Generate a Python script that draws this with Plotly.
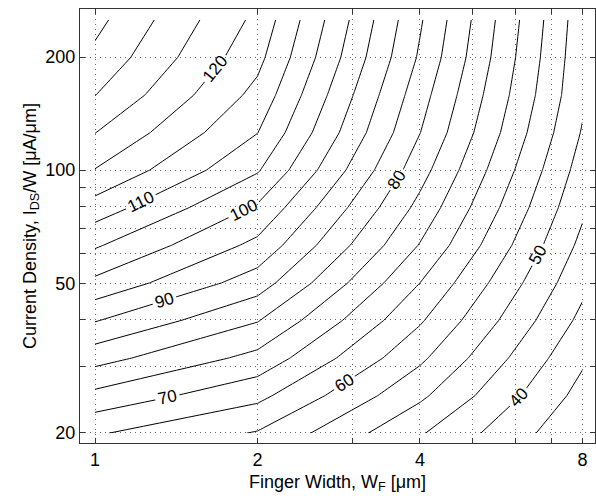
import plotly.graph_objects as go

# Finger width grid [um]
finger_width = [1, 2, 4, 8]
# Current density grid [uA/um]
current_density = [19.95, 25.12, 31.62, 39.81, 50.12, 63.10, 79.43, 100.0, 125.9, 158.5, 199.5, 251.2]

# Contour quantity at each current density, one list per finger width
z_w1 = [65.5, 73.6, 81.9, 90.3, 98.8, 105.6, 112.8, 119.8, 125.1, 130.1, 133.8, 136.5]
z_w2 = [59.6, 66.4, 73.5, 80.3, 87.5, 93.7, 99.3, 105.5, 110.1, 113.5, 116.5, 118.7]
z_w4 = [45.5, 51.0, 56.0, 60.6, 65.0, 69.7, 73.5, 77.0, 80.1, 82.1, 84.3, 85.6]
z_w8 = [30.8, 33.3, 35.8, 38.7, 41.3, 43.7, 45.9, 47.8, 49.6, 51.0, 51.5, 52.0]

x_tickvals = [1, 2, 4, 8]
x_ticktext = ["1", "2", "4", "8"]
x_minor = [3, 5, 6, 7]
y_tickvals = [20, 50, 100, 200]
y_ticktext = ["20", "50", "100", "200"]
y_minor = [30, 40, 60, 70, 80, 90]

z = [[a, b, c, d] for a, b, c, d in zip(z_w1, z_w2, z_w4, z_w8)]

FONT = "Liberation Sans, Arial, Helvetica, sans-serif"

fig = go.Figure()
# unlabeled intermediate levels
fig.add_trace(go.Contour(
    x=finger_width, y=current_density, z=z,
    autocontour=False,
    contours=dict(start=35, end=135, size=10, coloring="none", showlabels=False),
    line=dict(color="black", width=1, smoothing=0),
    showscale=False, hoverinfo="skip",
))
# labeled levels
fig.add_trace(go.Contour(
    x=finger_width, y=current_density, z=z,
    autocontour=False,
    contours=dict(start=40, end=130, size=10, coloring="none", showlabels=True,
                  labelfont=dict(family=FONT, size=17, color="black")),
    line=dict(color="black", width=1, smoothing=0),
    showscale=False, hoverinfo="skip",
))

grid_style = dict(showgrid=True, gridcolor="#666", gridwidth=1, griddash="1px,4px")
axis_common = dict(
    showline=True, linecolor="#333", linewidth=1, mirror="ticks",
    ticks="inside", ticklen=5, tickcolor="#333",
    zeroline=False, tickfont=dict(family=FONT, size=18, color="black"),
    **grid_style,
)

fig.update_layout(
    width=596, height=500,
    margin=dict(l=80, r=1, t=9, b=57),
    paper_bgcolor="white", plot_bgcolor="white",
    showlegend=False,
    font=dict(family=FONT, size=18, color="black"),
    xaxis=dict(type="log", range=[-0.0278, 0.9263],
               tickmode="array", tickvals=x_tickvals, ticktext=x_ticktext,
               minor=dict(tickmode="array", tickvals=x_minor, ticks="inside", ticklen=5,
                          tickcolor="#333", **grid_style),
               title=dict(text="Finger Width, W<sub>F</sub> [μm]", font=dict(family=FONT, size=18), standoff=6),
               **axis_common),
    yaxis=dict(type="log", range=[1.2739, 2.4289],
               tickmode="array", tickvals=y_tickvals, ticktext=y_ticktext,
               minor=dict(tickmode="array", tickvals=y_minor, ticks="inside", ticklen=5,
                          tickcolor="#333", **grid_style),
               title=dict(text="Current Density, I<sub>DS</sub>/W [μA/μm]", font=dict(family=FONT, size=18), standoff=4),
               **axis_common),
)

fig.write_html("out.html")
